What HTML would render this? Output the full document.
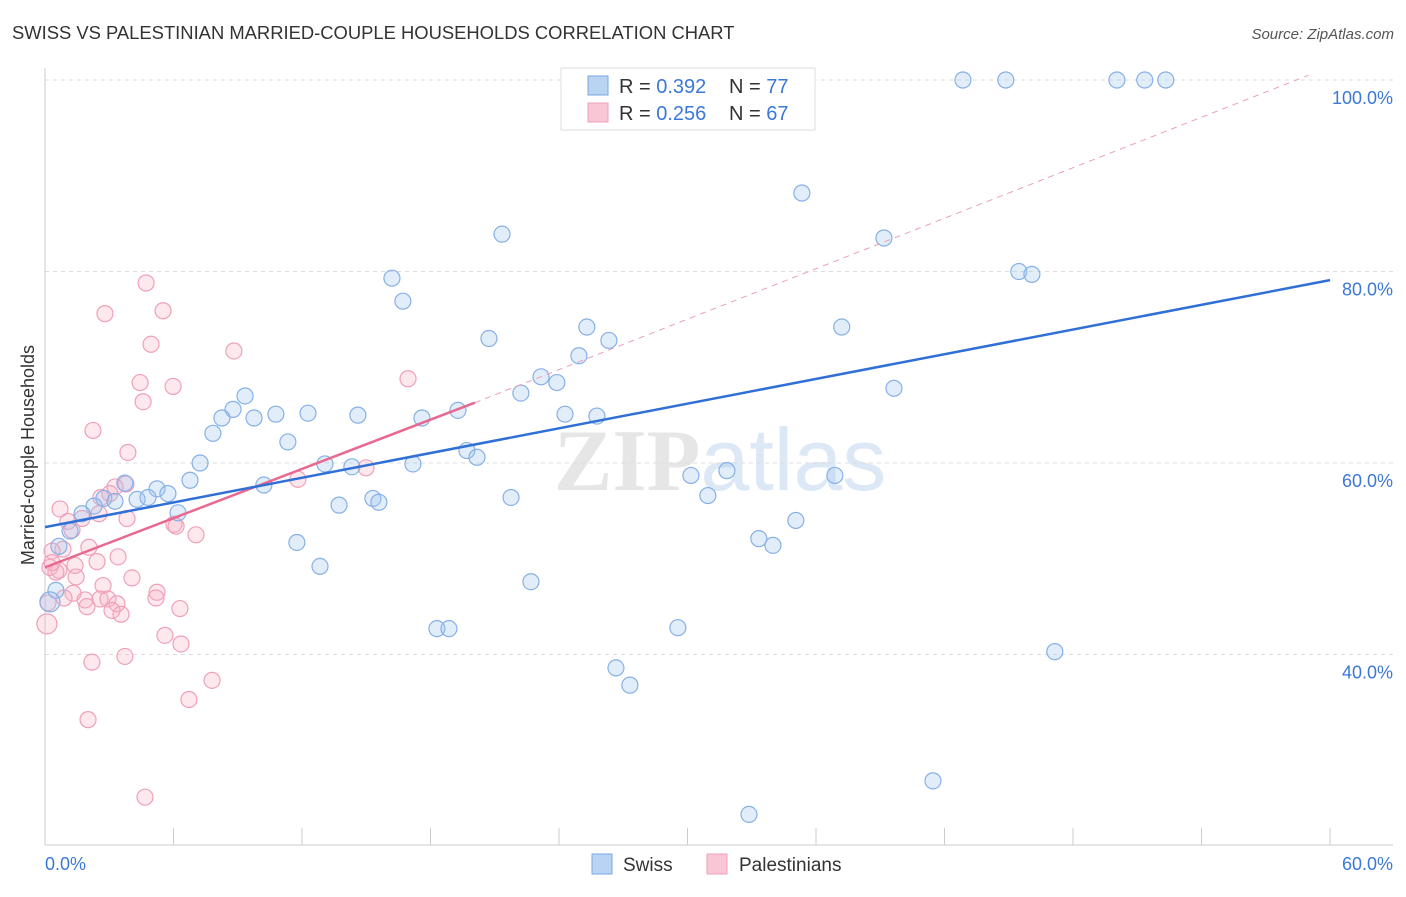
<!DOCTYPE html>
<html><head><meta charset="utf-8"><style>
body{margin:0;background:#fff;font-family:"Liberation Sans",sans-serif;}
svg text{font-family:"Liberation Sans",sans-serif;}
</style></head><body>
<svg id="chart" width="1406" height="892" xmlns="http://www.w3.org/2000/svg">
<text x="12" y="39" font-size="18.4" fill="#333">SWISS VS PALESTINIAN MARRIED-COUPLE HOUSEHOLDS CORRELATION CHART</text>
<text x="1394" y="39" font-size="15" fill="#555" font-style="italic" text-anchor="end">Source: ZipAtlas.com</text>
<text x="720" y="490" font-size="88" fill="#e6e6e6" text-anchor="middle" font-weight="bold"><tspan fill="#e6e6e6" font-family="Liberation Serif">ZIP</tspan><tspan fill="#dde8f6" font-weight="normal">atlas</tspan></text>
<g id="grid"></g>
<g id="axes"></g>
<g id="pink"></g>
<g id="blue"></g>
<g id="lines"></g>
<text x="34" y="455" font-size="18" fill="#333" text-anchor="middle" transform="rotate(-90 34 455)">Married-couple Households</text>
<g>
<rect x="561" y="68" width="254" height="62" fill="#fff" stroke="#ddd"/>
<rect x="588" y="76" width="20" height="19" fill="#b9d3f3" stroke="#7aa7e0"/>
<rect x="588" y="103" width="20" height="19" fill="#f9c6d6" stroke="#f0a0b8"/>
<text x="619" y="93" font-size="20" fill="#333">R = <tspan fill="#3b78d8">0.392</tspan></text>
<text x="729" y="93" font-size="20" fill="#333">N = <tspan fill="#3b78d8">77</tspan></text>
<text x="619" y="120" font-size="20" fill="#333">R = <tspan fill="#3b78d8">0.256</tspan></text>
<text x="729" y="120" font-size="20" fill="#333">N = <tspan fill="#3b78d8">67</tspan></text>
</g>
<g>
<rect x="592" y="854" width="20" height="20" fill="#b9d3f3" stroke="#7aa7e0"/>
<text x="623" y="871" font-size="19" fill="#333">Swiss</text>
<rect x="707" y="854" width="20" height="20" fill="#f9c6d6" stroke="#f0a0b8"/>
<text x="739" y="871" font-size="19" fill="#333">Palestinians</text>
</g>
</svg>
<script>
const blueX=[42.86,44.86,50.05,51.35,52.33,35.34,21.34,39.17,45.47,46.08,16.2,16.71,25.3,37.2,20.73,26.33,24.93,23.16,23.9,22.22,39.64,9.34,8.78,8.26,9.76,10.78,12.28,14.61,19.28,17.6,24.28,25.77,7.84,11.34,19.7,20.17,7.24,13.07,14.33,17.18,30.16,31.84,36.88,6.77,3.73,10.22,5.23,5.74,2.75,4.3,4.81,3.27,15.31,15.59,21.76,30.95,13.73,2.29,6.21,1.73,35.06,1.17,0.65,11.76,33.33,33.99,12.84,22.69,0.51,0.23,18.3,18.86,29.55,47.15,26.66,27.31,41.46,32.87];
const blueY=[100,100,100,100,100,88.2,83.9,83.5,80.0,79.7,79.3,76.9,74.2,74.2,73.0,72.8,71.2,69.0,68.4,67.3,67.8,67.0,65.6,64.7,64.7,65.1,65.2,65.0,65.5,64.7,65.1,64.9,63.1,62.2,61.3,60.6,60.0,59.9,59.6,59.9,58.7,59.2,58.7,58.2,57.9,57.7,57.3,56.8,56.3,56.2,56.4,56.0,56.3,55.9,56.4,56.6,55.6,55.5,54.8,54.7,54.0,52.9,51.3,51.7,52.1,51.4,49.2,47.6,46.7,45.5,42.7,42.7,42.8,40.3,38.6,36.8,26.8,23.3];
const pinkX=[4.72,2.8,5.51,4.95,8.82,4.44,16.95,5.98,4.58,2.24,3.87,14.99,11.81,3.78,3.27,3.03,2.61,0.7,2.52,3.83,1.73,1.07,6.02,6.12,7.05,1.26,0.84,2.05,0.33,3.41,2.43,1.4,0.23,0.65,0.51,1.45,4.06,2.71,5.23,1.31,5.18,0.89,1.87,2.57,2.94,3.36,1.96,3.13,3.55,6.3,5.6,6.35,2.19,3.73,7.8,6.72,2.01,4.67,0.09,0.14,0.33];
const pinkY=[78.8,75.6,75.9,72.4,71.7,68.4,68.8,68.0,66.4,63.4,61.1,59.5,58.3,57.8,57.5,56.8,56.4,55.2,54.7,54.2,54.2,53.9,53.6,53.4,52.5,53.0,51.0,51.2,50.8,50.2,49.7,49.3,49.1,48.8,48.6,48.1,48.0,47.2,46.5,46.4,45.9,45.9,45.7,45.8,45.8,45.3,45.0,44.6,44.2,44.8,42.0,41.1,39.2,39.8,37.3,35.3,33.2,25.1,43.2,45.4,49.6];
const yTicks=[100,80,60,40];
const blueTrend=[53.3,79.1];
const pinkTrend=[49.1,66.3,100.5];
const NS="http://www.w3.org/2000/svg";
const sx=v=>45+v*21.417;
const sy=v=>463-(v-60)*9.575;
function mk(tag,attrs,parent){const e=document.createElementNS(NS,tag);for(const k in attrs)e.setAttribute(k,attrs[k]);parent.appendChild(e);return e;}
const grid=document.getElementById('grid'),axes=document.getElementById('axes');
yTicks.forEach(t=>{
  const l=mk('line',{x1:45,x2:1393,y1:sy(t),y2:sy(t),stroke:'#ddd','stroke-dasharray':'4,4'},grid);
  
  
  const tx=mk('text',{x:1393,y:sy(t)+24,'font-size':18,fill:'#3b78d8','text-anchor':'end'},grid);
  tx.textContent=t.toFixed(1)+'%';
  
  
});
mk('line',{x1:45,x2:45,y1:68,y2:845,stroke:'#ccc'},axes);
mk('line',{x1:45,x2:1393,y1:845,y2:845,stroke:'#ccc'},axes);
for(let i=0;i<=10;i++){mk('line',{x1:sx(i*6),x2:sx(i*6),y1:828,y2:845,stroke:'#ccc'},axes);}
const x0=mk('text',{x:45,y:870,'font-size':18,fill:'#3b78d8'},axes);x0.textContent='0.0%';


const x1=mk('text',{x:1393,y:870,'font-size':18,fill:'#3b78d8','text-anchor':'end'},axes);x1.textContent='60.0%';


const pg=document.getElementById('pink');
pinkX.forEach((x,i)=>{const c=mk('circle',{cx:sx(x),cy:sy(pinkY[i]),r:i==58?10:8,fill:'rgba(248,180,200,0.3)',stroke:'#f0a0b8','stroke-width':1.2},pg);

});
const bg=document.getElementById('blue');
blueX.forEach((x,i)=>{const c=mk('circle',{cx:sx(x),cy:sy(blueY[i]),r:i==69?10:8,fill:'rgba(160,196,240,0.3)',stroke:'#86b0e6','stroke-width':1.2},bg);

});
const lg=document.getElementById('lines');
const pd=mk('line',{x1:sx(20.07),y1:sy(pinkTrend[1]),x2:sx(59),y2:sy(pinkTrend[2]),stroke:'#eaa0b8','stroke-dasharray':'6,5','stroke-width':1},lg);


const pl=mk('line',{x1:sx(0),y1:sy(pinkTrend[0]),x2:sx(20.07),y2:sy(pinkTrend[1]),stroke:'#e8698f','stroke-width':2.5},lg);


const bl=mk('line',{x1:sx(0),y1:sy(blueTrend[0]),x2:sx(60),y2:sy(blueTrend[1]),stroke:'#2f6fd6','stroke-width':2.5},lg);


</script>
</body></html>
